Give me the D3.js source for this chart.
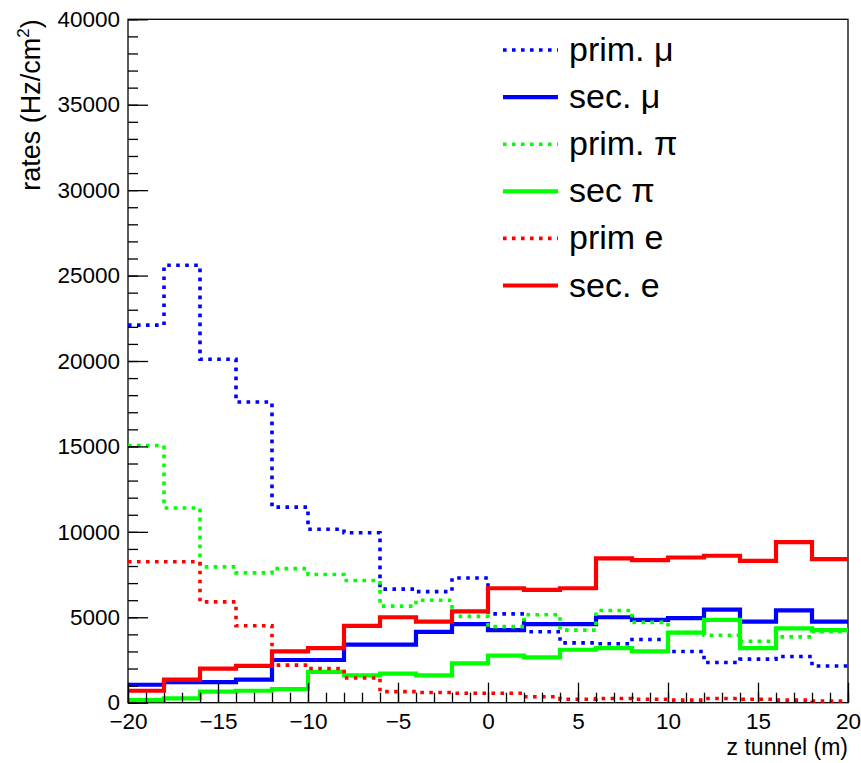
<!DOCTYPE html>
<html>
<head>
<meta charset="utf-8">
<script src="https://cdn.jsdelivr.net/npm/d3@7"></script>
<style>
  body { margin: 0; background: white; }
  text { font-family: "Liberation Sans", Arial, Helvetica, sans-serif; }
</style>
</head>
<body>
<svg id="chart" width="861" height="763"></svg>
<script>
// bin edges: 20 bins of 2 m from -20 to 20
const binEdges = d3.range(-20, 20, 2)

// rates per bin (Hz/cm2)
const primMu = [22100, 25600, 20100, 17600, 11450, 10150, 9950, 6650, 6500, 7300, 5200, 4150, 3500, 3450, 3700, 3000, 2350, 2550, 2700, 2150]
const secMu  = [1050, 1200, 1200, 1350, 2500, 2500, 3400, 3400, 4150, 4600, 4250, 4600, 4600, 5000, 4850, 4950, 5450, 4750, 5400, 4750]
const primPi = [15050, 11400, 7950, 7600, 7850, 7500, 7150, 5650, 6000, 5050, 4450, 5150, 4250, 5400, 4700, 4100, 3950, 3600, 3850, 4150]
const secPi  = [150, 250, 650, 700, 800, 1800, 1600, 1700, 1600, 2300, 2750, 2650, 3100, 3200, 3000, 4100, 4850, 3200, 4350, 4250]
const primE  = [8250, 8250, 5900, 4500, 2200, 2000, 1450, 650, 600, 550, 550, 350, 200, 250, 200, 150, 250, 200, 150, 100]
const secE   = [700, 1350, 2000, 2150, 3000, 3200, 4500, 5000, 4750, 5350, 6700, 6600, 6700, 8450, 8350, 8500, 8600, 8300, 9400, 8400]

const seriesNames = ["prim. μ", "sec. μ", "prim. π", "sec π", "prim e", "sec. e"]
const seriesValues = [primMu, secMu, primPi, secPi, primE, secE]
const seriesColors = ["#0000ff", "#0000ff", "#00ff00", "#00ff00", "#ff0000", "#ff0000"]
const seriesDotted = [true, false, true, false, true, false]

const xTicks = [-20, -15, -10, -5, 0, 5, 10, 15, 20]
const yTicks = [0, 5000, 10000, 15000, 20000, 25000, 30000, 35000, 40000]

var margin = {top: 19.3, right: 13, bottom: 60.3, left: 128},
    width = 861 - margin.left - margin.right,
    height = 763 - margin.top - margin.bottom;

var svg = d3.select("#chart")
var g = svg.append("g")
  .attr("transform", "translate(" + margin.left + "," + margin.top + ")")

var x = d3.scaleLinear().domain([-20, 20]).range([0, width])
var y = d3.scaleLinear().domain([0, 40000]).range([height, 0])

// frame
g.append("rect")
  .attr("width", width)
  .attr("height", height)
  .attr("fill", "none")
  .attr("stroke", "black")
  .attr("stroke-width", 1.3)

// histograms as step lines
var step = d3.line()
  .x(d => x(d[0]))
  .y(d => y(d[1]))
  .curve(d3.curveStepAfter)

seriesValues.forEach((vals, i) => {
  var pts = vals.map((v, j) => [binEdges[j], v])
  pts.push([20, vals[vals.length - 1]])
  g.append("path")
    .attr("d", step(pts))
    .attr("fill", "none")
    .attr("stroke", seriesColors[i])
    .attr("stroke-width", seriesDotted[i] ? 3.6 : 4.2)
    .attr("stroke-dasharray", seriesDotted[i] ? "3.6,5.4" : null)
})

// x axis: minor ticks every 1, major every 5, pointing inwards
g.append("g")
  .attr("transform", "translate(0," + height + ")")
  .call(d3.axisBottom(x).tickValues(d3.range(-20, 21, 1)).tickSize(-10).tickFormat(""))
  .call(a => a.select(".domain").remove())
g.append("g")
  .attr("class", "xAxis")
  .attr("transform", "translate(0," + height + ")")
  .call(d3.axisBottom(x).tickValues(xTicks).tickSize(-20).tickPadding(10).tickFormat(d3.format("d")))
  .call(a => a.select(".domain").remove())

// y axis
g.append("g")
  .call(d3.axisLeft(y).tickValues(d3.range(0, 40001, 1000)).tickSize(-10).tickFormat(""))
  .call(a => a.select(".domain").remove())
g.append("g")
  .attr("class", "yAxis")
  .call(d3.axisLeft(y).tickValues(yTicks).tickSize(-20).tickPadding(8).tickFormat(d3.format("d")))
  .call(a => a.select(".domain").remove())

g.selectAll(".tick line").attr("stroke", "black").attr("stroke-width", 1.3)
g.selectAll(".tick text")
  .attr("font-size", "22.5px")
  .attr("font-family", "Liberation Sans, Arial, sans-serif")
  .attr("fill", "black")

// axis titles
g.append("text")
  .text("z tunnel (m)")
  .attr("x", width)
  .attr("y", height + 52)
  .attr("text-anchor", "end")
  .attr("font-size", "23px")

var ytitle = g.append("text")
  .attr("transform", "translate(" + (40 - margin.left) + ",0) rotate(-90)")
  .attr("text-anchor", "end")
  .attr("font-size", "27px")
ytitle.append("tspan").text("rates (Hz/cm")
ytitle.append("tspan").text("2").attr("font-size", "17px").attr("dy", -11)
ytitle.append("tspan").text(")").attr("dy", 11)

// legend
var legend = svg.append("g").selectAll("g")
  .data(d3.range(seriesNames.length))
  .enter().append("g")
  .attr("transform", d => "translate(0," + (50 + d * 47.1) + ")")

legend.append("line")
  .attr("x1", 503)
  .attr("x2", 558)
  .attr("stroke", d => seriesColors[d])
  .attr("stroke-width", d => seriesDotted[d] ? 3.6 : 4.2)
  .attr("stroke-dasharray", d => seriesDotted[d] ? "3.6,5.4" : null)

legend.append("text")
  .text(d => seriesNames[d])
  .attr("x", 569)
  .attr("y", 11)
  .attr("font-size", "34px")
</script>
</body>
</html>
